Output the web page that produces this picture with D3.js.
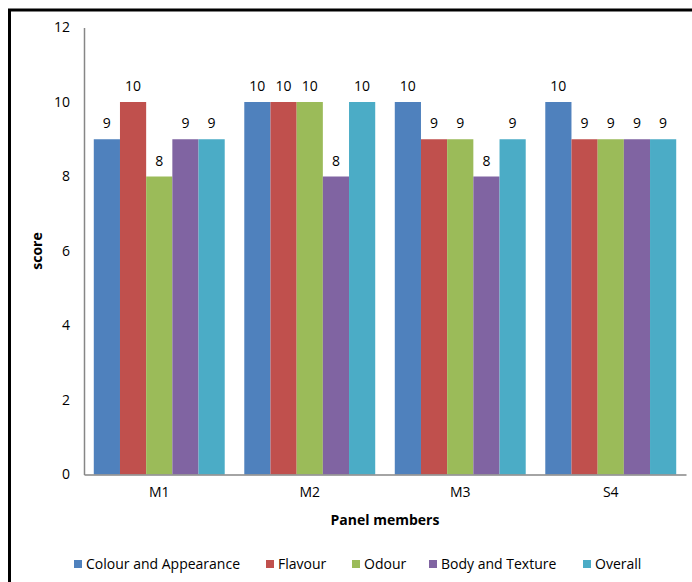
<!DOCTYPE html>
<html>
<head>
<meta charset="utf-8">
<script src="https://cdn.jsdelivr.net/npm/d3@7"></script>
<style>
  html, body { margin: 0; padding: 0; background: #fff; }
  svg { display: block; }
  text { font-family: "Open Sans", "Noto Sans", sans-serif; fill: #000; }
</style>
</head>
<body>
<svg id="chart" width="692" height="582"></svg>
<script>
// Sensory scores given by each panel member
const members = ["M1", "M2", "M3", "S4"];
const attributes = ["Colour and Appearance", "Flavour", "Odour", "Body and Texture", "Overall"];
const colourAppearance = [9, 10, 10, 10];
const flavour = [10, 10, 9, 9];
const odour = [8, 10, 9, 9];
const bodyTexture = [9, 8, 8, 9];
const overall = [9, 10, 9, 9];
const yTicks = [0, 2, 4, 6, 8, 10, 12];
const colours = ["#4F81BD", "#C0504D", "#9BBB59", "#8064A2", "#4BACC6"];

const seriesValues = [colourAppearance, flavour, odour, bodyTexture, overall];

const svg = d3.select("#chart");

// frame (left and top edges)
svg.append("path")
  .attr("d", "M9.5,582 V10 H692")
  .attr("fill", "none")
  .attr("stroke", "#000")
  .attr("stroke-width", 3);

const x0 = d3.scaleBand().domain(members).range([84, 686]).paddingInner(0.13).paddingOuter(0.065);
const x1 = d3.scaleBand().domain(attributes).range([0, x0.bandwidth()]);
const y = d3.scaleLinear().domain([0, 12]).range([474.5, 27.5]);

// y axis
const yAxis = svg.append("g").attr("transform", "translate(84,0)")
  .call(d3.axisLeft(y).tickValues(yTicks).tickSize(0).tickPadding(14));
yAxis.select(".domain").attr("stroke", "#868686").attr("stroke-width", 1.5);
yAxis.selectAll("text").attr("font-size", 14).attr("font-family", "Open Sans, sans-serif");

// bars
const groups = svg.append("g").selectAll("g")
  .data(members)
  .join("g")
  .attr("transform", d => `translate(${x0(d)},0)`);

groups.selectAll("rect")
  .data((m, i) => attributes.map((a, j) => ({ attr: a, value: seriesValues[j][i], colour: colours[j] })))
  .join("rect")
  .attr("x", d => x1(d.attr))
  .attr("width", x1.bandwidth())
  .attr("y", d => y(d.value))
  .attr("height", d => y(0) - y(d.value))
  .attr("fill", d => d.colour);

groups.selectAll("text.value")
  .data((m, i) => attributes.map((a, j) => ({ attr: a, value: seriesValues[j][i] })))
  .join("text")
  .attr("class", "value")
  .attr("x", d => x1(d.attr) + x1.bandwidth() / 2)
  .attr("y", d => y(d.value) - 11)
  .attr("text-anchor", "middle")
  .attr("font-size", 14)
  .text(d => d.value);

// x axis
const xAxis = svg.append("g").attr("transform", `translate(0,${y(0)})`)
  .call(d3.axisBottom(x0).tickSize(0).tickPadding(13));
xAxis.select(".domain").attr("stroke", "#868686").attr("stroke-width", 1.5);
xAxis.selectAll("text").attr("font-size", 14).attr("font-family", "Open Sans, sans-serif");

// axis titles
svg.append("text")
  .attr("x", 385).attr("y", 525)
  .attr("text-anchor", "middle")
  .attr("font-size", 14).attr("font-weight", "bold")
  .text("Panel members");

svg.append("text")
  .attr("transform", "translate(42,251) rotate(-90)")
  .attr("text-anchor", "middle")
  .attr("font-size", 14).attr("font-weight", "bold")
  .text("score");

// legend
const legendX = [74, 266, 352, 429, 583];
const legend = svg.append("g").selectAll("g")
  .data(attributes)
  .join("g")
  .attr("transform", (d, i) => `translate(${legendX[i]},560)`);
legend.append("rect").attr("width", 8).attr("height", 8).attr("fill", (d, i) => colours[i]);
legend.append("text").attr("x", 12).attr("y", 9).attr("font-size", 14).text(d => d);
</script>
</body>
</html>
